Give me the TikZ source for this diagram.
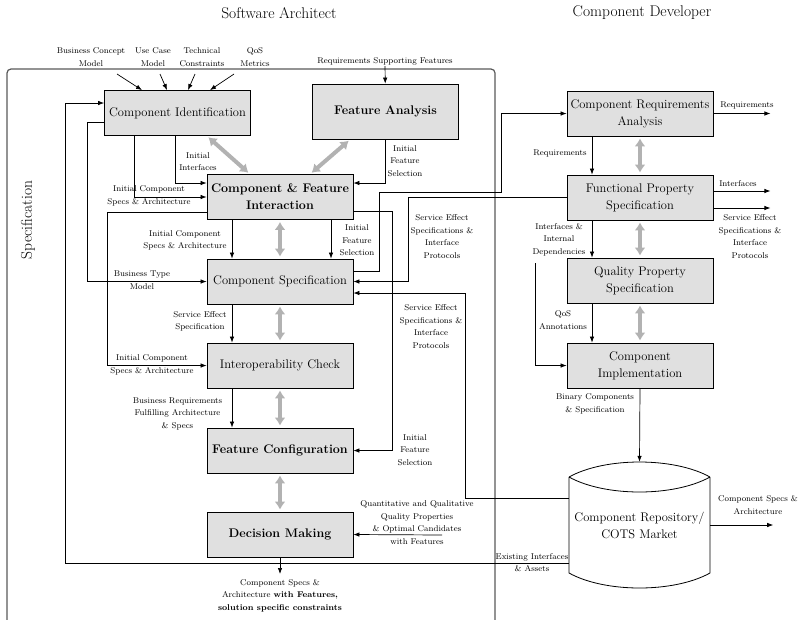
\documentclass[tikz,border=0pt]{standalone}
\usetikzlibrary{arrows.meta,calc}
\newcommand\boxfont{\fontsize{12.5}{17}\selectfont}
\newcommand\lblfont{\fontsize{8.4}{12.5}\selectfont}
\newcommand\ttlfont{\fontsize{15.5}{18}\selectfont}
\begin{document}
\begin{tikzpicture}[x=1pt,y=-1pt,
  box/.style={draw, fill=black!12, line width=0.8pt, minimum width=146pt,
    minimum height=45pt, align=center, font=\boxfont, inner sep=2pt},
  boldbox/.style={box, font=\boxfont\bfseries},
  lbl/.style={align=center, font=\lblfont, inner sep=1pt},
  arr/.style={-{Latex[length=6pt,width=4.5pt]}, line width=0.7pt},
  garr/.style={{Latex[length=8pt,width=11pt]}-{Latex[length=8pt,width=11pt]},
    line width=4pt, draw=black!30, shorten <=2pt, shorten >=2pt},
  frame/.style={draw=black!65, line width=1.2pt}]
\useasboundingbox (0,0) rectangle (803,619);

% role headings
\node[font=\ttlfont] (tSA) at (279,13) {Software Architect};
\node[font=\ttlfont] (tCD) at (642,13) {Component Developer};
\node[font=\ttlfont, rotate=90] (tSpec) at (28,220) {Specification};

% specification frame
\draw[frame, rounded corners=4pt] (7,640) -- (7,69) -- (495,69) -- (495,640);

% activities of the software architect
\node[box] (CI) at (177.5,113) {Component Identification};
\node[boldbox, minimum height=55pt] (FA) at (385.5,111.5) {Feature Analysis};
\node[boldbox] (CFI) at (280,197) {Component \& Feature\\Interaction};
\node[box] (CS) at (280,281.5) {Component Specification};
\node[box] (IC) at (280,365.5) {Interoperability Check};
\node[boldbox] (FC) at (280,450.5) {Feature Configuration};
\node[boldbox] (DM) at (280,534.5) {Decision Making};

% activities of the component developer
\node[box] (CRA) at (640,113.5) {Component Requirements\\Analysis};
\node[box] (FPS) at (640,197.5) {Functional Property\\Specification};
\node[box] (QPS) at (640,280.5) {Quality Property\\Specification};
\node[box] (CImp) at (640,365.5) {Component\\Implementation};

% repository cylinder
\node[minimum width=141pt, minimum height=126pt, inner sep=0pt, align=center,
  font=\boxfont] (repo) at (639.5,525) {Component Repository/\\COTS Market};
\draw[line width=0.8pt]
  (569,477) .. controls (605,457) and (674,457) .. (710,477)
  (569,477) .. controls (605,497) and (674,497) .. (710,477)
  (569,477) -- (569,573) .. controls (605,593) and (674,593) .. (710,573) -- (710,477);

% labels
\node[lbl] (lBCM) at (91,57) {Business Concept\\Model};
\node[lbl] (lUCM) at (153,57) {Use Case\\Model};
\node[lbl] (lTC) at (202,57) {Technical\\Constraints};
\node[lbl] (lQoS) at (255,57) {QoS\\Metrics};
\node[lbl] (lRSF) at (385,61) {Requirements Supporting Features};
\node[lbl] (lII) at (198,161.5) {Initial\\Interfaces};
\node[lbl] (lICSA1) at (149,196) {Initial Component\\Specs \& Architecture};
\node[lbl] (lBTM) at (142,280) {Business Type\\Model};
\node[lbl] (lICSA2) at (152,365) {Initial Component\\Specs \& Architecture};
\node[lbl] (lICSA3) at (185,240.5) {Initial Component\\Specs \& Architecture};
\node[lbl] (lIFS1) at (357,240.5) {Initial\\Feature\\Selection};
\node[lbl] (lIFS0) at (405,161) {Initial\\Feature\\Selection};
\node[lbl] (lIFS2) at (415,450) {Initial\\Feature\\Selection};
\node[lbl] (lSES1) at (442,236.5) {Service Effect\\Specifications \&\\Interface\\Protocols};
\node[lbl] (lSES2) at (431,326.5) {Service Effect\\Specifications \&\\Interface\\Protocols};
\node[lbl] (lSESp) at (200,321.5) {Service Effect\\Specification};
\node[lbl] (lBR) at (177.5,413.5) {Business Requirements\\Fulfilling Architecture\\\& Specs};
\node[lbl] (lQQ) at (417,522.5) {Quantitative and Qualitative\\Quality Properties\\\& Optimal Candidates\\with Features};
\node[lbl, anchor=north] (lOut) at (280,578) {Component Specs \&\\Architecture \textbf{with Features,}\\\textbf{solution specific constraints}};
\node[lbl] (lEIA) at (532,562.5) {Existing Interfaces\\\& Assets};
\node[lbl] (lReq1) at (747,105) {Requirements};
\node[lbl] (lReq2) at (560,153) {Requirements};
\node[lbl] (lIf) at (738,184) {Interfaces};
\node[lbl, fill=white, inner sep=5pt] (lSES3) at (750,236.5) {Service Effect\\Specifications \&\\Interface\\Protocols};
\node[lbl] (lIID) at (559,239.5) {Interfaces \&\\Internal\\Dependencies};
\node[lbl] (lQoSA) at (563,320) {QoS\\Annotations};
\node[lbl] (lBCS) at (595,404) {Binary Components\\\& Specification};
\node[lbl] (lCSA) at (758,505) {Component Specs \&\\Architecture};

% free ends
\coordinate (inBCM) at (117,74);
\coordinate (inUCM) at (160,74);
\coordinate (inTC) at (195,74);
\coordinate (inQoS) at (234,74);
\coordinate (inQQ) at (442,535);
\coordinate (inDep) at (535,263);

% inputs to component identification
\draw[arr] (inBCM) -- ($(CI.north)+(-35.5,0)$);
\draw[arr] (inUCM) -- ($(CI.north)+(-10.5,0)$);
\draw[arr] (inTC) -- ($(CI.north)+(10.5,0)$);
\draw[arr] (inQoS) -- ($(CI.north)+(32.5,0)$);
\draw[arr] (lRSF) -- (FA);

% architect flows
\draw[arr] ($(CI.south)+(-2.5,0)$) |- ($(CFI.west)+(0,-14)$);
\draw[arr] ($(CI.south)+(-43.5,0)$) |- (CFI.west);
\draw[arr] ($(CI.west)+(0,9)$) -- ++(-17,0) |- (CS.west);
\draw[arr] ($(repo.west)+(0,38)$) -| ($(CI.west)+(-39,-10)$) -- ($(CI.west)+(0,-10)$);
\draw[arr] ($(CFI.west)+(0,15)$) -- ++(-99,0) |- (IC.west);
\draw[arr] ($(CFI.south)+(-48,0)$) -- ($(CS.north)+(-48,0)$);
\draw[arr] ($(CFI.south)+(51,0)$) -- ($(CS.north)+(51,0)$);
\draw[arr] (FA.south) |- ($(CFI.east)+(0,-14)$);
\draw[arr] ($(CFI.east)+(0,14)$) -- ++(39,0) |- (FC.east);
\draw[arr] ($(CS.south)+(-48,0)$) -- ($(IC.north)+(-48,0)$);
\draw[arr] ($(IC.south)+(-48,0)$) -- ($(FC.north)+(-48,0)$);
\draw[arr] (inQQ) -- (DM.east);
\draw[arr, shorten >=4pt] (DM.south) -- (lOut.north);

% exchanges between the two roles
\draw[arr] ($(CS.east)+(0,-10.5)$) -- ++(26,0) -- ++(0,-79) -- ++(122,0) |- (CRA.west);
\draw[arr] (FPS.west) -- ++(-158,0) |- (CS.east);
\draw[arr] ($(repo.west)+(0,-27)$) -- ++(-103,0) |- ($(CS.east)+(0,11.5)$);

% developer flows
\draw[arr] (CRA.east) -- ++(57,0);
\draw[arr] ($(CRA.south)+(-48,0)$) -- ($(FPS.north)+(-48,0)$);
\draw[arr] ($(FPS.east)+(0,-6.5)$) -- ++(57,0);
\draw[arr] ($(FPS.east)+(0,10.5)$) -- ++(57,0);
\draw[arr] ($(FPS.south)+(-48,0)$) -- ($(QPS.north)+(-48,0)$);
\draw[arr] (inDep) |- (CImp.west);
\draw[arr] ($(QPS.south)+(-48,0)$) -- ($(CImp.north)+(-48,0)$);
\draw[arr] (CImp.south) -- (repo.north);
\draw[arr] (repo.east) -- ++(63,0);

% interaction between activities
\draw[garr] ($(CI.south west)!0.7!(CI.south east)$) -- ($(CFI.north west)!0.295!(CFI.north east)$);
\draw[garr] ($(FA.south west)!0.26!(FA.south east)$) -- ($(CFI.north west)!0.705!(CFI.north east)$);
\draw[garr] (CFI.south) -- (CS.north);
\draw[garr] (CS.south) -- (IC.north);
\draw[garr] (IC.south) -- (FC.north);
\draw[garr] (FC.south) -- (DM.north);
\draw[garr] (CRA.south) -- (FPS.north);
\draw[garr] (FPS.south) -- (QPS.north);
\draw[garr] (QPS.south) -- (CImp.north);
\end{tikzpicture}
\end{document}
